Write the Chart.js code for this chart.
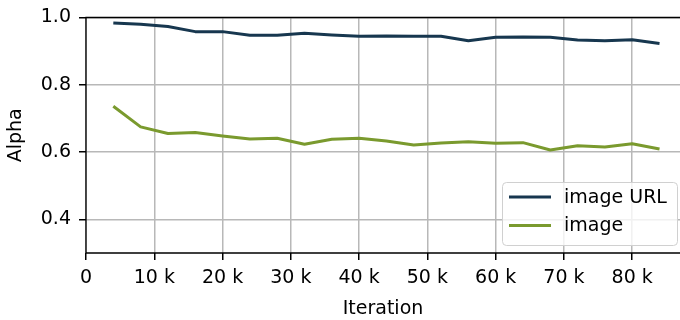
<!DOCTYPE html>
<html>
<head>
<meta charset="utf-8">
<script src="https://cdn.jsdelivr.net/npm/chart.js@4.4.0/dist/chart.umd.min.js"></script>
<style>
  html, body { margin: 0; padding: 0; background: #fff; }
  #wrap { width: 680px; height: 320px; }
</style>
</head>
<body>
<div id="wrap"><canvas id="myChart" width="680" height="320"></canvas></div>
<script>
// iteration of each logged point
var iterations = [4000, 8000, 12000, 16000, 20000, 24000, 28000, 32000, 36000, 40000, 44000,
                  48000, 52000, 56000, 60000, 64000, 68000, 72000, 76000, 80000, 84000];
var seriesNames = ['image URL', 'image'];
var alphaUrl = [0.984, 0.980, 0.973, 0.958, 0.958, 0.947, 0.947, 0.953, 0.948, 0.944, 0.945,
                0.944, 0.944, 0.931, 0.941, 0.942, 0.941, 0.933, 0.931, 0.934, 0.923];
var alphaImage = [0.736, 0.675, 0.655, 0.658, 0.648, 0.639, 0.641, 0.623, 0.638, 0.641, 0.633,
                  0.621, 0.627, 0.631, 0.626, 0.628, 0.606, 0.619, 0.615, 0.625, 0.609];
var yTicks = [0.4, 0.6, 0.8, 1.0];
var xTicks = [0, 10000, 20000, 30000, 40000, 50000, 60000, 70000, 80000];
var colors = ['#17374f', '#7a9a2e'];

var FONT = 'DejaVu Sans';
Chart.defaults.font.family = FONT;
Chart.defaults.font.size = 19;
Chart.defaults.color = '#000';

function toPoints(vals) {
  return vals.map(function (v, i) { return { x: iterations[i], y: v }; });
}

// frame lines (left, top, bottom) and the boxed legend in the lower right
var framePlugin = {
  id: 'frame',
  afterDraw: function (chart) {
    var c = chart.ctx, a = chart.chartArea;
    c.save();
    c.strokeStyle = '#000';
    c.lineWidth = 1.3;
    c.beginPath();
    c.moveTo(a.right + 2, a.top);
    c.lineTo(a.left, a.top);
    c.lineTo(a.left, a.bottom);
    c.lineTo(a.right + 2, a.bottom);
    c.stroke();

    // legend
    var bx = 502, by = 182, bw = 175, bh = 63;
    c.fillStyle = 'rgba(255,255,255,0.8)';
    c.strokeStyle = '#d0d0d0';
    c.lineWidth = 1;
    c.beginPath();
    c.roundRect(bx + 0.5, by + 0.5, bw, bh, 4);
    c.fill();
    c.stroke();
    c.font = '19px "' + FONT + '"';
    c.textBaseline = 'middle';
    c.textAlign = 'left';
    for (var i = 0; i < seriesNames.length; i++) {
      var ly = 197 + i * 28.5;
      c.strokeStyle = colors[i];
      c.lineWidth = 3;
      c.beginPath();
      c.moveTo(509, ly);
      c.lineTo(551, ly);
      c.stroke();
      c.fillStyle = '#000';
      c.fillText(seriesNames[i], 564, ly + 1);
    }
    c.restore();
  }
};

var ctx = document.getElementById('myChart').getContext('2d');
var myChart = new Chart(ctx, {
  type: 'line',
  data: {
    datasets: [{
      label: seriesNames[0],
      data: toPoints(alphaUrl),
      borderColor: colors[0],
      borderWidth: 3,
      borderJoinStyle: 'round',
      pointRadius: 0,
      tension: 0
    }, {
      label: seriesNames[1],
      data: toPoints(alphaImage),
      borderColor: colors[1],
      borderWidth: 3,
      borderJoinStyle: 'round',
      pointRadius: 0,
      tension: 0
    }]
  },
  options: {
    responsive: false,
    animation: false,
    layout: { padding: { top: 14, right: 0, left: 0, bottom: 0 } },
    plugins: {
      legend: { display: false },
      tooltip: { enabled: false }
    },
    scales: {
      x: {
        type: 'linear',
        min: 0,
        max: 87000,
        afterFit: function (s) { s.height = 67; },
        afterBuildTicks: function (s) { s.ticks = xTicks.map(function (v) { return { value: v }; }); },
        ticks: {
          padding: 7,
          maxRotation: 0,
          callback: function (v) { return v === 0 ? '0' : (v / 1000) + ' k'; }
        },
        grid: { color: '#b8b8b8', lineWidth: 1.5, tickColor: '#000', tickLength: 7 },
        border: { display: false },
        title: { display: true, text: 'Iteration', padding: { top: 0, bottom: 0 } }
      },
      y: {
        min: 0.3,
        max: 1.0,
        afterFit: function (s) { s.width = 86; },
        afterBuildTicks: function (s) { s.ticks = yTicks.map(function (v) { return { value: v }; }); },
        ticks: {
          padding: 8,
          font: { lineHeight: 1 },
          callback: function (v) { return v.toFixed(1); }
        },
        grid: { color: '#b8b8b8', lineWidth: 1.5, tickColor: '#000', tickLength: 7 },
        border: { display: false },
        title: { display: true, text: 'Alpha', padding: { top: 5, bottom: 0 } }
      }
    }
  },
  plugins: [framePlugin]
});
</script>
</body>
</html>
